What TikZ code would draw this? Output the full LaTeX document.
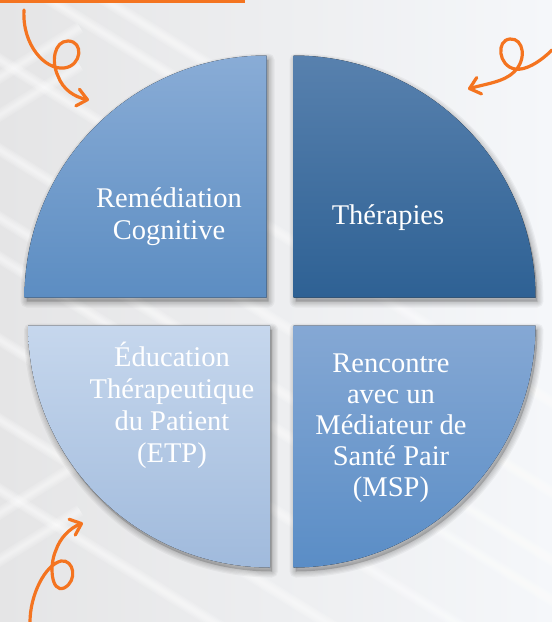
\documentclass[tikz,border=0pt]{standalone}
\usepackage{fontspec}
\setmainfont{Liberation Serif}
\usepackage{tikz}
\usetikzlibrary{arrows.meta}
\definecolor{curl}{RGB}{244, 116, 32}
\definecolor{bgleft}{RGB}{229, 229, 230}
\definecolor{bgright}{RGB}{245, 247, 250}
\definecolor{tltop}{RGB}{137, 172, 214}
\definecolor{tlbot}{RGB}{92, 141, 194}
\definecolor{trtop}{RGB}{88, 129, 174}
\definecolor{trbot}{RGB}{46, 97, 148}
\definecolor{bltop}{RGB}{198, 215, 237}
\definecolor{blbot}{RGB}{160, 186, 220}
\definecolor{brtop}{RGB}{133, 168, 212}
\definecolor{brbot}{RGB}{90, 141, 198}

\tikzset{
  label text/.style={text=white, align=center, inner sep=0pt,
    font=\fontsize{28.5}{32}\selectfont},
  curl arrow/.style={draw=curl, line width=3.2pt, line cap=round,
    -{Straight Barb[length=10pt, width=17pt, round]}}
}

\begin{document}
\begin{tikzpicture}[x=1pt, y=-1pt]
  \useasboundingbox (0, 0) rectangle (552, 622);
  % background with soft white bands
  \begin{scope}
    \clip (0, 0) rectangle (552, 622);
    \shade[left color=bgleft, right color=bgright] (0, 0) rectangle (552, 622);
    \foreach \a/\c/\b in {90/-65/260, 40/-31/260, -10/60/600, -10/150/600,
        -10/218/600, -10/258/600, -10/340/600, -10/420/600, -10/490/600} {
      \foreach \i in {0.2, 0.4,..., 1} {
        \draw[white, line width={12 * \i}, opacity=0.15]
          (\a, {0.62 * \a + \c}) -- (\b, {0.62 * \b + \c});
      }
    }
    \foreach \c in {77, 115, 513, 560} {
      \foreach \i in {0.2, 0.4,..., 1} {
        \draw[white, line width={12 * \i}, opacity=0.13]
          (-10, {6.2 + \c}) -- (80, {-49.6 + \c});
      }
    }
  \end{scope}
  \fill[curl] (0, 0) rectangle (245, 2.5);

  % four quarter discs: centre x / centre y / start angle / colours
  \foreach \cx/\cy/\sa/\tc/\bc in {266.5/297.5/180/tltop/tlbot,
      293.5/297.5/270/trtop/trbot, 270/325.5/90/bltop/blbot,
      293.5/325.5/0/brtop/brbot} {
    \begin{scope}[shift={(2, 4)}]
      \fill[black, opacity=0.18] (\cx, \cy) -- ++(\sa:242)
        arc[start angle=\sa, end angle=\sa+90, radius=242] -- cycle;
      \foreach \k in {1,..., 5} {
        \draw[black, opacity=0.04, line width={2.4 * \k}, line join=round]
          (\cx, \cy) -- ++(\sa:242)
          arc[start angle=\sa, end angle=\sa+90, radius=242] -- cycle;
      }
    \end{scope}
    \fill[top color=\tc, bottom color=\bc] (\cx, \cy) -- ++(\sa:242)
      arc[start angle=\sa, end angle=\sa+90, radius=242] -- cycle;
  }

  \node[label text] (remed) at (169, 217) {Remédiation\\Cognitive};
  \node[label text] (thera) at (388, 218) {Thérapies};
  \node[label text] (etp) at (172, 405)
    {Éducation\\Thérapeutique\\du Patient\\(ETP)};
  \node[label text, font=\fontsize{28.5}{31}\selectfont] (msp) at (391, 428)
    {Rencontre\\avec un\\Médiateur de\\Santé Pair\\(MSP)};

  % curly arrows
  \draw[curl arrow] (24, 10) .. controls (22, 45) and (45, 70) .. (64, 68)
    .. controls (82, 66) and (84, 41) .. (68, 41)
    .. controls (54, 41) and (51, 62) .. (58, 76)
    .. controls (63, 90) and (75, 97) .. (89, 100);
  \draw[curl arrow] (552, 50) .. controls (540, 62) and (525, 71) .. (515, 69)
    .. controls (498, 66) and (496, 40) .. (510, 39)
    .. controls (524, 38) and (527, 60) .. (514, 72)
    .. controls (504, 82) and (485, 84) .. (468, 89);
  \draw[curl arrow] (30, 622) .. controls (30, 595) and (45, 565) .. (61, 561)
    .. controls (74, 559) and (78, 581) .. (64, 588)
    .. controls (51, 593) and (49, 565) .. (56, 550)
    .. controls (60, 538) and (70, 528) .. (83, 523);
\end{tikzpicture}
\end{document}
